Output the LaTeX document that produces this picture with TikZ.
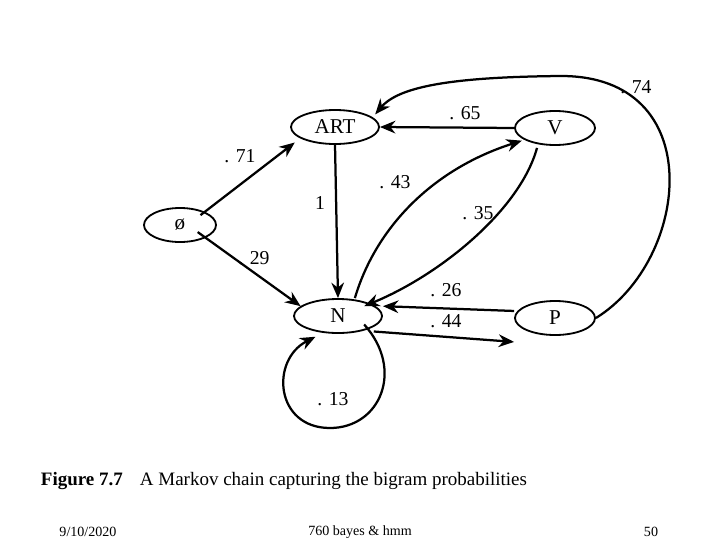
\documentclass[tikz,border=0pt]{standalone}
\usepackage{fontspec}
\setmainfont{Liberation Serif}
\usetikzlibrary{shapes.geometric,arrows.meta}
\begin{document}
\begin{tikzpicture}[x=0.025cm,y=-0.025cm,
    state/.style={ellipse,draw,line width=1.3pt,minimum width=2.2cm,minimum height=0.85cm,inner sep=0pt,font=\fontsize{15}{15}\selectfont},
    link/.style={line width=1.6pt,-{Stealth[length=11pt,width=9pt]}},
    prob/.style={font=\fontsize{14}{14}\selectfont}]
	\useasboundingbox (0,0) rectangle (720,540);
	
	% States
	\node[state] (art) at (335,127) {ART};
	\node[state,minimum width=2cm] (v) at (555,128) {V};
	\node[state,minimum width=1.8cm] (start) at (180,225) {ø};
	\node[state] (n) at (338,316) {N};
	\node[state,minimum width=2cm] (p) at (555,318) {P};
	
	% Transitions
	\draw[link] (p.east) .. controls (690,260) and (710,75) .. (560,76) .. controls (460,77) and (400,85) .. ([xshift=6pt]art.north east);
	\draw[link] (v.west) -- (art.east);
	\draw[link] ([xshift=-4pt,yshift=-2pt]start.north east) -- ([xshift=-6pt,yshift=-2pt]art.south west);
	\draw[link] ([xshift=-6pt,yshift=4pt]start.south east) -- ([xshift=-4pt,yshift=-2pt]n.north west);
	\draw[link] (art.south) -- (n.north);
	\draw[link] ([xshift=12pt]n.north) .. controls (375,230) and (430,170) .. ([xshift=-3pt]v.south west);
	\draw[link] (v.south) ++(-18,2) .. controls (520,210) and (440,275) .. ([xshift=-4pt,yshift=-2pt]n.north east);
	\draw[link] ([yshift=5pt]p.west) -- ([yshift=7pt]n.east);
	\draw[link] ([yshift=-2pt]n.south east) ++(4,0) -- ([yshift=-17pt]p.west);
	\draw[link] ([xshift=-4pt,yshift=3pt]n.south east) .. controls (405,370) and (380,428) .. (330,428) .. controls (275,428) and (270,360) .. ([xshift=-16pt,yshift=-2pt]n.south);
	
	% Labels
	\node[prob] at (636,87) {. 74};
	\node[prob] at (465,113) {. 65};
	\node[prob] at (240,156) {. 71};
	\node[prob] at (254,258) {. 29};
	\node[prob] at (320,203) {1};
	\node[prob] at (395,182) {. 43};
	\node[prob] at (478,213) {. 35};
	\node[prob] at (446,290) {. 26};
	\node[prob] at (446,321) {. 44};
	\node[prob] at (333,399) {. 13};
	
	% Caption and footer
	\node[anchor=west,font=\fontsize{13.5}{13.5}\selectfont] at (36,481) {\textbf{Figure 7.7}\hspace{0.9em}A Markov chain capturing the bigram probabilities};
	\node[font=\fontsize{10}{10}\selectfont] at (88,532) {9/10/2020};
	\node[font=\fontsize{10}{10}\selectfont] at (360,532) {760 bayes \& hmm};
	\node[font=\fontsize{10}{10}\selectfont] at (651,532) {50};
\end{tikzpicture}
\end{document}
